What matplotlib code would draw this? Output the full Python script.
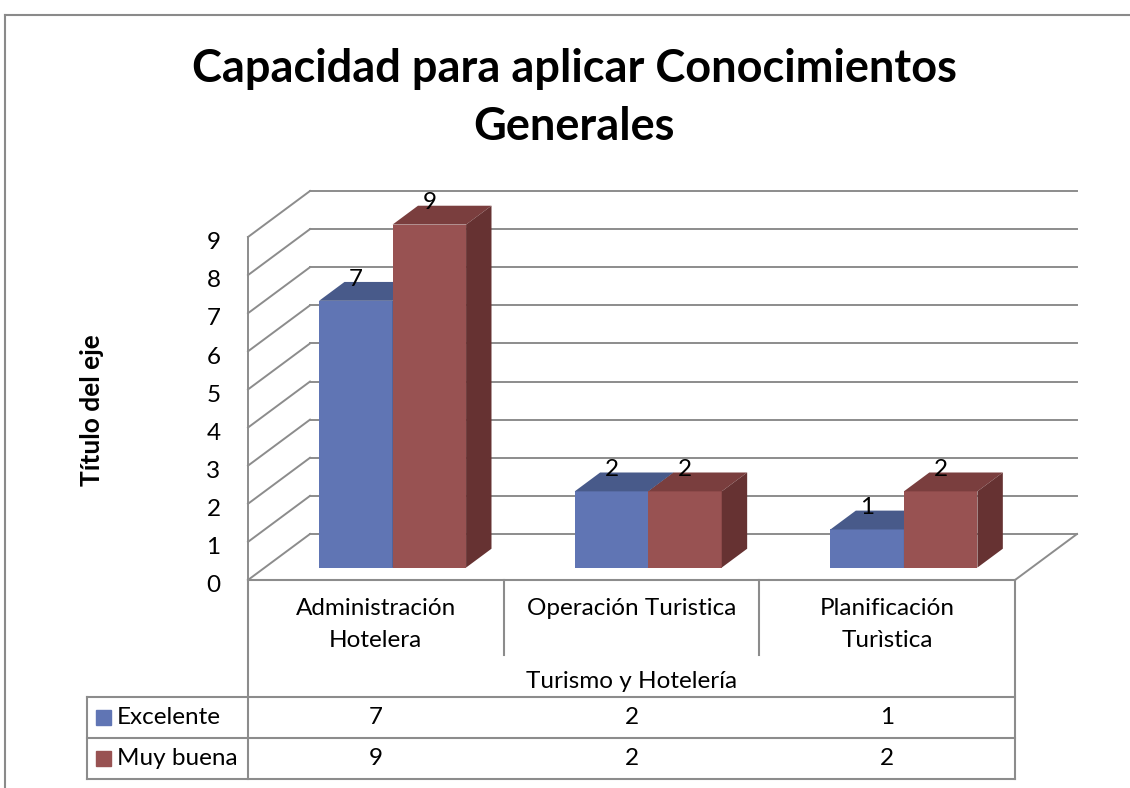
import matplotlib
matplotlib.use("Agg")
import matplotlib.pyplot as plt
from matplotlib.lines import Line2D
from matplotlib.patches import Rectangle

# ---------------- data ----------------
title = "Capacidad para aplicar Conocimientos\nGenerales"
categories = ["Administración\nHotelera", "Operación Turistica", "Planificación\nTurìstica"]
series_names = ["Excelente", "Muy buena"]
excelente = [7, 2, 1]
muy_buena = [9, 2, 2]
y_ticks = [0, 1, 2, 3, 4, 5, 6, 7, 8, 9]
axis_group_label = "Turismo y Hotelería"
y_title = "Título del eje"

# ---------------- style ----------------
W, H, DPI = 1130, 788, 100
FONT = ["Lato", "DejaVu Sans"]
plt.rcParams["font.family"] = FONT
GRID = "#8c8c8c"
front_cols = ["#6075B4", "#985252"]
top_cols = ["#485A8A", "#7A3E3E"]
side_cols = ["#3E4E78", "#663232"]
FS = 17.5

fig = plt.figure(figsize=(W / DPI, H / DPI), dpi=DPI)
fig.patch.set_facecolor("white")

# front plane: x 0..3 -> px 248..1015 ; y 0..9 -> px 580..237
x0p, x1p, y0p, y9p = 248, 1015, 580, 237
ax = fig.add_axes([x0p / W, (H - y0p) / H, (x1p - x0p) / W, (y0p - y9p) / H])
ax.set_xlim(0, 3)
ax.set_ylim(0, 9)
ax.axis("off")

pxx = (x1p - x0p) / 3.0       # px per category
pxy = (y0p - y9p) / 9.0       # px per value unit
DX = 62 / pxx                 # depth offset in data units
DY = 46 / pxy
d0, d1 = 0.27, 0.68           # bar depth range
bw = 0.2875                   # bar width

lw = 1.4
# back wall gridlines and left wall diagonals
for v in y_ticks:
    ax.add_line(Line2D([DX, 3 + DX], [v + DY, v + DY], color=GRID, lw=lw, clip_on=False, zorder=1))
    ax.add_line(Line2D([0, DX], [v, v + DY], color=GRID, lw=lw, clip_on=False, zorder=1))
ax.add_line(Line2D([0, 0], [0, max(y_ticks)], color=GRID, lw=lw, clip_on=False, zorder=1))
ax.add_line(Line2D([3, 3 + DX], [0, DY], color=GRID, lw=lw, clip_on=False, zorder=1))

# y tick labels
for v in y_ticks:
    ax.text(-0.135, v - 0.15, str(v), ha="center", va="center", fontsize=FS, clip_on=False)

# bars
for i in range(len(categories)):
    for s, vals in enumerate([excelente, muy_buena]):
        v = vals[i]
        xl = i + 0.5 - bw + s * bw + d0 * DX
        xr = xl + bw
        yb = d0 * DY
        yt = v + d0 * DY
        ddx = (d1 - d0) * DX
        ddy = (d1 - d0) * DY
        z = 3 + s
        ax.bar(xl, v, width=bw, bottom=yb, align="edge", color=front_cols[s],
               edgecolor="none", zorder=z, clip_on=False)
        ax.fill([xl, xr, xr + ddx, xl + ddx], [yt, yt, yt + ddy, yt + ddy],
                color=top_cols[s], lw=0, zorder=z, clip_on=False)
        ax.fill([xr, xr + ddx, xr + ddx, xr], [yb, yb + ddy, yt + ddy, yt],
                color=side_cols[s], lw=0, zorder=z, clip_on=False)
        ax.text((xl + xr) / 2, v + d1 * DY - 0.2, str(v), ha="center", va="bottom",
                fontsize=FS, zorder=10, clip_on=False)

# ---------------- data table ----------------
def vy(py):
    return (y0p - py) / pxy

def vx(px):
    return (px - x0p) / pxx

TL = dict(color=GRID, lw=1.5, clip_on=False, zorder=2)
ax.add_line(Line2D([0, 3], [0, 0], **TL))
ax.add_line(Line2D([0, 0], [0, vy(779)], **TL))
ax.add_line(Line2D([3, 3], [0, vy(779)], **TL))
for k in (1, 2):
    ax.add_line(Line2D([k, k], [0, vy(655)], **TL))
for py in (697, 738, 779):
    ax.add_line(Line2D([vx(87), 3], [vy(py), vy(py)], **TL))
ax.add_line(Line2D([vx(87), vx(87)], [vy(697), vy(779)], **TL))

for i, c in enumerate(categories):
    ax.text(i + 0.5, vy(598), c, ha="center", va="top", fontsize=FS,
            linespacing=1.62, clip_on=False)
ax.text(1.5, vy(682), axis_group_label, ha="center", va="center", fontsize=FS, clip_on=False)

row_y = [vy(717.5), vy(758.5)]
for s, (name, vals) in enumerate(zip(series_names, [excelente, muy_buena])):
    ax.add_patch(Rectangle((vx(96), row_y[s] - 7.5 / pxy), 15 / pxx, 15 / pxy,
                           color=front_cols[s], clip_on=False, zorder=3))
    ax.text(vx(117), row_y[s], name, ha="left", va="center", fontsize=FS, clip_on=False)
    for i, v in enumerate(vals):
        ax.text(i + 0.5, row_y[s], str(v), ha="center", va="center", fontsize=FS, clip_on=False)

# ---------------- titles ----------------
fig.text(574 / W, 1 - 98 / H, title, ha="center", va="center", fontsize=32.5,
         fontweight="bold", linespacing=1.5)
fig.text(92 / W, 1 - 410 / H, y_title, ha="center", va="center", fontsize=19,
         fontweight="bold", rotation=90)

# outer chart border (partially visible)
fig.add_artist(Line2D([5 / W, 1], [1 - 15 / H, 1 - 15 / H], transform=fig.transFigure,
                      color="#8a8a8a", lw=1.5))
fig.add_artist(Line2D([5 / W, 5 / W], [0, 1 - 15 / H], transform=fig.transFigure,
                      color="#8a8a8a", lw=1.5))

fig.savefig("out.png", dpi=DPI, facecolor="white")
